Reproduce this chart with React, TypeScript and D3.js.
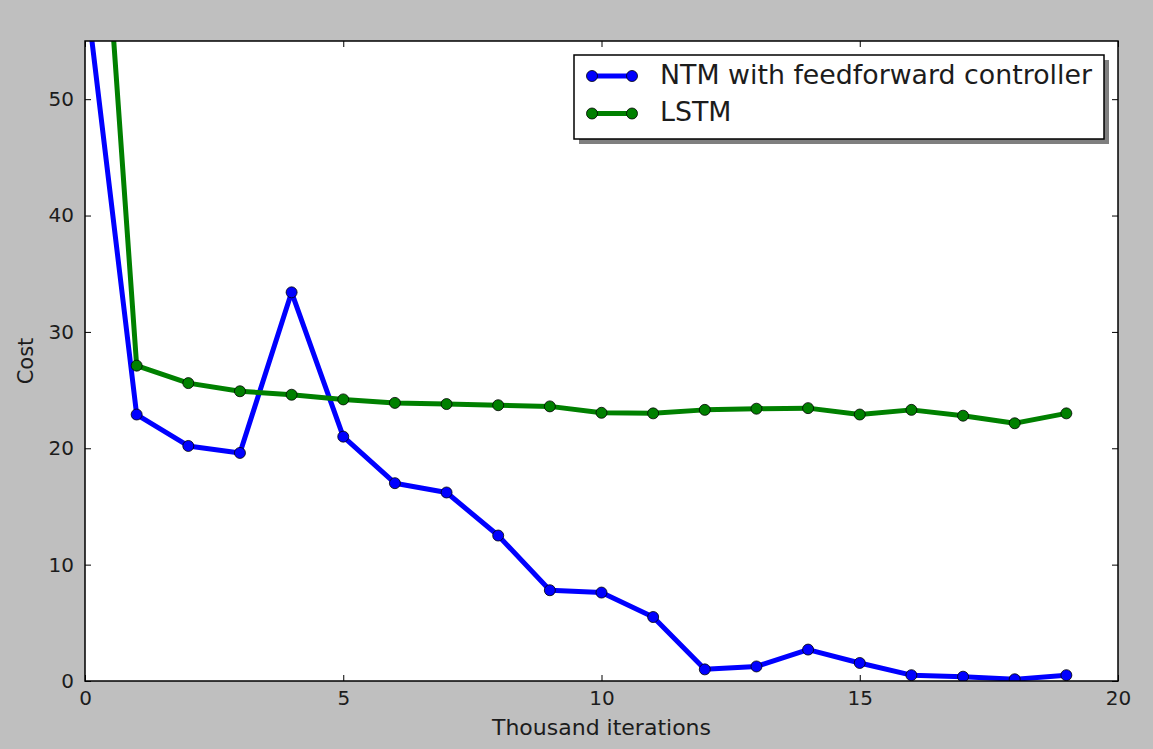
import React, { useEffect, useRef } from 'react';
import * as d3 from 'd3';

// thousand iterations (x) and cost per series
const iterations = [0, 1, 2, 3, 4, 5, 6, 7, 8, 9, 10, 11, 12, 13, 14, 15, 16, 17, 18, 19];
const ntmCost = [60, 22.9, 20.2, 19.6, 33.4, 21.0, 17.0, 16.2, 12.5, 7.8, 7.6, 5.5, 1.0, 1.25, 2.7, 1.55, 0.5, 0.37, 0.15, 0.5];
const lstmCost = [90, 27.1, 25.6, 24.9, 24.6, 24.2, 23.9, 23.8, 23.7, 23.6, 23.05, 23.0, 23.3, 23.4, 23.45, 22.9, 23.3, 22.8, 22.15, 23.0];

const xTicks = [0, 5, 10, 15, 20];
const yTicks = [0, 10, 20, 30, 40, 50];

const seriesNames = ['NTM with feedforward controller', 'LSTM'];
const seriesColors = ['#0000ff', '#008000'];

const W = 1153;
const H = 749;
const FONT = '"DejaVu Sans", sans-serif';
const INK = '#1c1c1c';

export default function App() {
  const ref = useRef<SVGSVGElement | null>(null);

  useEffect(() => {
    if (ref.current) drawChart(ref.current);
  }, []);

  return (
    <svg
      ref={ref}
      width={W}
      height={H}
      style={{ position: 'absolute', left: 0, top: 0, display: 'block' }}
    />
  );
}

const drawChart = (node: SVGSVGElement) => {
  const svg = d3.select(node);
  svg.selectAll('*').remove();

  // plot box in page pixels
  const margin = { top: 41, right: 35, bottom: 68, left: 85 },
    width = W - margin.left - margin.right,
    height = H - margin.top - margin.bottom;

  svg.append('rect').attr('width', W).attr('height', H).attr('fill', '#bfbfbf');

  const g = svg
    .append('g')
    .attr('transform', 'translate(' + margin.left + ',' + margin.top + ')');

  g.append('rect').attr('width', width).attr('height', height).attr('fill', '#ffffff');

  const x = d3.scaleLinear().domain([0, 20]).range([0, width]);
  const y = d3.scaleLinear().domain([0, 55]).range([height, 0]);

  // clip so the first points above 55 get cut at the frame
  g.append('clipPath')
    .attr('id', 'plot-clip')
    .append('rect')
    .attr('width', width)
    .attr('height', height);

  const series = [ntmCost, lstmCost];
  const line = d3
    .line<number>()
    .x((d, i) => x(iterations[i]))
    .y(d => y(d));

  const plot = g.append('g').attr('clip-path', 'url(#plot-clip)');

  series.forEach((values, si) => {
    plot
      .append('path')
      .datum(values)
      .attr('d', line)
      .attr('fill', 'none')
      .attr('stroke', seriesColors[si])
      .attr('stroke-width', 5)
      .attr('stroke-linejoin', 'round');

    plot
      .selectAll('.dot' + si)
      .data(values)
      .enter()
      .append('circle')
      .attr('cx', (d, i) => x(iterations[i]))
      .attr('cy', d => y(d))
      .attr('r', 5.5)
      .attr('fill', seriesColors[si])
      .attr('stroke', '#000')
      .attr('stroke-width', 0.8);
  });

  // axes, ticks pointing inward on all four sides
  const styleAxis = (sel: d3.Selection<SVGGElement, unknown, null, undefined>) => {
    sel.select('.domain').remove();
    sel.selectAll('.tick line').attr('stroke', '#000').attr('stroke-width', 1);
    sel
      .selectAll('.tick text')
      .attr('fill', INK)
      .style('font-family', FONT)
      .style('font-size', '20px');
  };

  g.append('g')
    .attr('transform', 'translate(0,' + height + ')')
    .call(d3.axisBottom(x).tickValues(xTicks).tickSize(-6).tickPadding(10).tickFormat(d3.format('d')))
    .call(styleAxis);

  g.append('g')
    .call(d3.axisTop(x).tickValues(xTicks).tickSize(-6).tickFormat(() => ''))
    .call(styleAxis);

  g.append('g')
    .call(d3.axisLeft(y).tickValues(yTicks).tickSize(-6).tickPadding(11).tickFormat(d3.format('d')))
    .call(styleAxis);

  g.append('g')
    .attr('transform', 'translate(' + width + ',0)')
    .call(d3.axisRight(y).tickValues(yTicks).tickSize(-6).tickFormat(() => ''))
    .call(styleAxis);

  // frame
  g.append('rect')
    .attr('width', width)
    .attr('height', height)
    .attr('fill', 'none')
    .attr('stroke', '#000')
    .attr('stroke-width', 1.5);

  // axis labels
  g.append('text')
    .attr('x', width / 2)
    .attr('y', height + 54)
    .attr('text-anchor', 'middle')
    .attr('fill', INK)
    .style('font-family', FONT)
    .style('font-size', '22px')
    .text('Thousand iterations');

  svg
    .append('text')
    .attr('transform', 'translate(33,' + (margin.top + height / 2) + ') rotate(-90)')
    .attr('text-anchor', 'middle')
    .attr('fill', INK)
    .style('font-family', FONT)
    .style('font-size', '21px')
    .text('Cost');

  // legend with drop shadow
  const lg = svg.append('g').attr('transform', 'translate(574,55)');
  lg.append('rect').attr('x', 5).attr('y', 5).attr('width', 530).attr('height', 84).attr('fill', '#7f7f7f');
  lg.append('rect')
    .attr('width', 530)
    .attr('height', 84)
    .attr('fill', '#fff')
    .attr('stroke', '#000')
    .attr('stroke-width', 1.5);

  seriesNames.forEach((name, i) => {
    const ry = 21 + i * 37.5;
    lg.append('line')
      .attr('x1', 18)
      .attr('x2', 58)
      .attr('y1', ry)
      .attr('y2', ry)
      .attr('stroke', seriesColors[i])
      .attr('stroke-width', 5);
    [18, 58].forEach(cx => {
      lg.append('circle')
        .attr('cx', cx)
        .attr('cy', ry)
        .attr('r', 5.5)
        .attr('fill', seriesColors[i])
        .attr('stroke', '#000')
        .attr('stroke-width', 0.8);
    });
    lg.append('text')
      .attr('x', 86)
      .attr('y', ry)
      .attr('dy', '0.28em')
      .attr('fill', INK)
      .style('font-family', FONT)
      .style('font-size', '26.8px')
      .text(name);
  });
};
